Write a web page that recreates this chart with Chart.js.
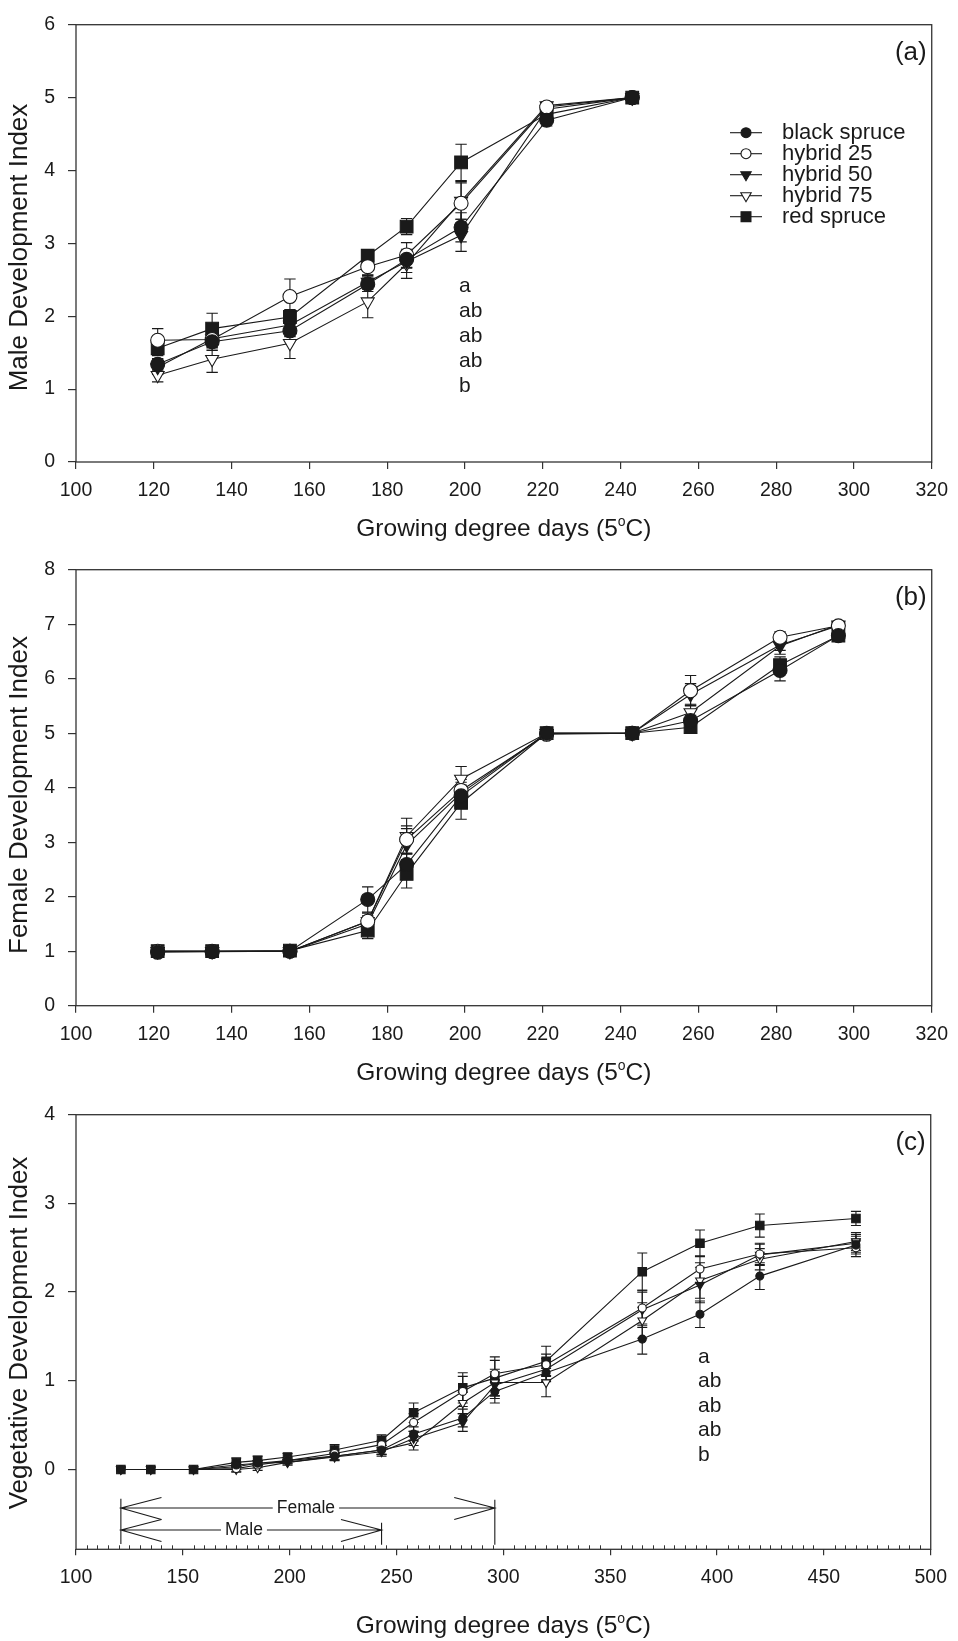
<!DOCTYPE html>
<html>
<head>
<meta charset="utf-8">
<script src="https://cdn.jsdelivr.net/npm/chart.js@4.4.1/dist/chart.umd.min.js"></script>
<style>
  body { margin: 0; background: #fff; width: 958px; height: 1641px; position: relative; overflow: hidden; }
  .panel { position: absolute; left: 0; width: 958px; }
</style>
</head>
<body>
<div class="panel" style="top:0;height:545px"><canvas id="maleChart"></canvas></div>
<div class="panel" style="top:545px;height:545px"><canvas id="femaleChart"></canvas></div>
<div class="panel" style="top:1090px;height:551px"><canvas id="vegChart"></canvas></div>

<script>
const seriesNames = ['black spruce', 'hybrid 25', 'hybrid 50', 'hybrid 75', 'red spruce'];

// sampling dates, growing degree days (5oC)
const gddMale = [121, 135, 155, 175, 185, 199, 221, 243];
const gddFemale = [121, 135, 155, 175, 185, 199, 221, 243, 258, 281, 296];
const gddVeg = [121, 135, 155, 175, 185, 199, 221, 243, 258, 281, 296, 320, 365, 392, 420, 465];

// (a) male development index, means and standard errors
const maleBlack   = [1.34, 1.65, 1.80, 2.44, 2.78, 3.22, 4.69, 5.00];
const maleHyb25   = [1.67, 1.68, 2.27, 2.68, 2.84, 3.55, 4.87, 5.00];
const maleHyb50   = [1.30, 1.69, 1.88, 2.47, 2.75, 3.11, 4.84, 5.00];
const maleHyb75   = [1.19, 1.41, 1.63, 2.20, 2.72, 3.58, 4.89, 5.00];
const maleRed     = [1.56, 1.83, 1.99, 2.83, 3.23, 4.11, 4.77, 5.00];
const maleBlackSe = [0.08, 0.10, 0.08, 0.10, 0.12, 0.20, 0.08, 0.03];
const maleHyb25Se = [0.16, 0.15, 0.24, 0.12, 0.17, 0.30, 0.06, 0.03];
const maleHyb50Se = [0.10, 0.12, 0.10, 0.10, 0.15, 0.22, 0.08, 0.03];
const maleHyb75Se = [0.09, 0.18, 0.21, 0.22, 0.20, 0.25, 0.05, 0.03];
const maleRedSe   = [0.10, 0.21, 0.10, 0.07, 0.11, 0.25, 0.08, 0.03];

// (b) female development index
const femBlack   = [0.98, 0.99, 1.00, 1.95, 2.59, 3.85, 5.00, 5.00, 5.23, 6.15, 6.79];
const femHyb25   = [1.00, 1.00, 1.00, 1.55, 3.05, 3.95, 4.98, 5.00, 5.78, 6.76, 6.97];
const femHyb50   = [1.00, 1.00, 1.00, 1.50, 2.95, 3.90, 5.00, 5.00, 5.71, 6.62, 6.97];
const femHyb75   = [1.00, 1.00, 1.00, 1.55, 3.11, 4.16, 5.00, 5.00, 5.38, 6.60, 6.99];
const femRed     = [1.00, 1.00, 1.01, 1.38, 2.42, 3.72, 5.00, 5.00, 5.11, 6.25, 6.79];
const femBlackSe = [0.03, 0.03, 0.03, 0.23, 0.20, 0.20, 0.03, 0.03, 0.10, 0.19, 0.05];
const femHyb25Se = [0.03, 0.03, 0.03, 0.15, 0.25, 0.20, 0.03, 0.03, 0.28, 0.10, 0.05];
const femHyb50Se = [0.03, 0.03, 0.03, 0.15, 0.30, 0.20, 0.03, 0.03, 0.20, 0.10, 0.05];
const femHyb75Se = [0.03, 0.03, 0.03, 0.15, 0.33, 0.23, 0.03, 0.03, 0.15, 0.15, 0.05];
const femRedSe   = [0.03, 0.03, 0.03, 0.15, 0.26, 0.30, 0.03, 0.03, 0.10, 0.15, 0.05];

// (c) vegetative development index
const vegBlack   = [0, 0, 0, 0.05, 0.07, 0.10, 0.15, 0.22, 0.40, 0.58, 0.88, 1.09, 1.47, 1.75, 2.18, 2.53];
const vegHyb25   = [0, 0, 0, 0.01, 0.05, 0.10, 0.18, 0.28, 0.53, 0.88, 1.08, 1.18, 1.82, 2.26, 2.43, 2.50];
const vegHyb50   = [0, 0, 0, 0.03, 0.07, 0.08, 0.14, 0.20, 0.35, 0.53, 0.95, 1.13, 1.80, 2.08, 2.42, 2.55];
const vegHyb75   = [0, 0, 0, 0.00, 0.02, 0.08, 0.15, 0.22, 0.30, 0.75, 0.98, 0.98, 1.68, 2.13, 2.37, 2.57];
const vegRed     = [0, 0, 0, 0.08, 0.10, 0.14, 0.22, 0.33, 0.64, 0.92, 1.03, 1.22, 2.23, 2.55, 2.75, 2.83];
const vegBlackSe = [0, 0, 0, 0.03, 0.03, 0.03, 0.04, 0.05, 0.08, 0.10, 0.13, 0.10, 0.17, 0.15, 0.15, 0.10];
const vegHyb25Se = [0, 0, 0, 0.03, 0.03, 0.03, 0.04, 0.05, 0.10, 0.17, 0.19, 0.12, 0.20, 0.15, 0.12, 0.10];
const vegHyb50Se = [0, 0, 0, 0.03, 0.03, 0.03, 0.04, 0.05, 0.08, 0.10, 0.15, 0.12, 0.20, 0.20, 0.12, 0.10];
const vegHyb75Se = [0, 0, 0, 0.03, 0.03, 0.03, 0.04, 0.05, 0.08, 0.12, 0.15, 0.16, 0.20, 0.20, 0.12, 0.10];
const vegRedSe   = [0, 0, 0, 0.05, 0.05, 0.04, 0.06, 0.06, 0.11, 0.17, 0.20, 0.17, 0.21, 0.15, 0.13, 0.08];

// axis ticks
const ticksGdd20 = [100, 120, 140, 160, 180, 200, 220, 240, 260, 280, 300, 320];
const ticksGdd50 = [100, 150, 200, 250, 300, 350, 400, 450, 500];
const ticksMale = [0, 1, 2, 3, 4, 5, 6];
const ticksFemale = [0, 1, 2, 3, 4, 5, 6, 7, 8];
const ticksVeg = [0, 1, 2, 3, 4];

// mean separation letters and reproductive bud periods
const groupLetters = ['a', 'ab', 'ab', 'ab', 'b'];
const maleSpan = [121, 243];
const femaleSpan = [121, 296];

const ink = '#1a1a1a';
const axisInk = '#333';
const fontFamily = '"Liberation Sans", Arial, Helvetica, sans-serif';

const markerStyles = [
  { style: 'circle', fill: ink, rotation: 0 },
  { style: 'circle', fill: '#fff', rotation: 0 },
  { style: 'triangle', fill: ink, rotation: 180 },
  { style: 'triangle', fill: '#fff', rotation: 180 },
  { style: 'rect', fill: ink, rotation: 0 }
];

function drawGddTitle(ctx, cx, baseline, size) {
  const head = 'Growing degree days (5', tail = 'C)';
  const main = size + 'px ' + fontFamily;
  const sup = Math.round(size * 0.58) + 'px ' + fontFamily;
  ctx.font = main;
  const w1 = ctx.measureText(head).width, w3 = ctx.measureText(tail).width;
  ctx.font = sup;
  const w2 = ctx.measureText('o').width;
  let x = cx - (w1 + w2 + w3) / 2;
  ctx.textAlign = 'left';
  ctx.textBaseline = 'alphabetic';
  ctx.font = main; ctx.fillText(head, x, baseline); x += w1;
  ctx.font = sup; ctx.fillText('o', x, baseline - size * 0.41); x += w2;
  ctx.font = main; ctx.fillText(tail, x, baseline);
}

const errorBars = {
  id: 'errorBars',
  beforeDatasetsDraw(chart, args, opts) {
    const { ctx } = chart;
    const yScale = chart.scales.y;
    ctx.save();
    ctx.strokeStyle = ink;
    ctx.lineWidth = 1.1;
    chart.data.datasets.forEach((ds, i) => {
      const meta = chart.getDatasetMeta(i);
      meta.data.forEach((pt, j) => {
        const e = ds.errors[j];
        if (!e) return;
        const v = ds.data[j].y;
        const top = yScale.getPixelForValue(v + e);
        const bot = yScale.getPixelForValue(v - e);
        ctx.beginPath();
        ctx.moveTo(pt.x, top); ctx.lineTo(pt.x, bot);
        ctx.moveTo(pt.x - opts.cap, top); ctx.lineTo(pt.x + opts.cap, top);
        ctx.moveTo(pt.x - opts.cap, bot); ctx.lineTo(pt.x + opts.cap, bot);
        ctx.stroke();
      });
    });
    ctx.restore();
  }
};

function panelDecor(p) {
  return {
    id: 'panelDecor',
    beforeDatasetsDraw(chart) {
      const { ctx, chartArea: a } = chart;
      ctx.save();
      ctx.strokeStyle = axisInk;
      ctx.lineWidth = 1.3;
      ctx.strokeRect(a.left, a.top, a.right - a.left, a.bottom - a.top);
      if (p.minorStep) {
        const xs = chart.scales.x;
        ctx.lineWidth = 1;
        ctx.beginPath();
        for (let v = xs.min + p.minorStep; v < xs.max; v += p.minorStep) {
          if (p.xTicks.includes(v)) continue;
          const px = Math.round(xs.getPixelForValue(v)) + 0.5;
          ctx.moveTo(px, a.bottom); ctx.lineTo(px, a.bottom - 4);
        }
        ctx.stroke();
      }
      ctx.restore();
    },
    afterDraw(chart) {
      const { ctx, chartArea: a } = chart;
      const xs = chart.scales.x, ys = chart.scales.y;
      ctx.save();
      ctx.fillStyle = ink;

      // axis titles
      drawGddTitle(ctx, (a.left + a.right) / 2, p.xTitleBaseline, 24.5);
      ctx.save();
      ctx.translate(20, p.yTitleY);
      ctx.rotate(-Math.PI / 2);
      ctx.textAlign = 'center';
      ctx.textBaseline = 'middle';
      ctx.font = '26px ' + fontFamily;
      ctx.fillText(p.yTitle, 0, 0);
      ctx.restore();

      // panel tag
      ctx.textAlign = 'right';
      ctx.textBaseline = 'middle';
      ctx.font = '26px ' + fontFamily;
      ctx.fillText(p.tag, a.right - 5, a.top + 28);

      // letters beside the separated date
      if (p.letters) {
        ctx.textAlign = 'left';
        ctx.font = '21px ' + fontFamily;
        const lx = xs.getPixelForValue(p.letters.at) - 2;
        const ly = ys.getPixelForValue(p.letters.y);
        groupLetters.forEach((t, i) => ctx.fillText(t, lx, ly + i * p.letters.step));
      }

      // legend
      if (p.legend) {
        chart.data.datasets.forEach((ds, i) => {
          const ry = p.legend.y + i * 21;
          ctx.strokeStyle = ink;
          ctx.lineWidth = 1.1;
          ctx.beginPath();
          ctx.moveTo(p.legend.x, ry); ctx.lineTo(p.legend.x + 32, ry);
          ctx.stroke();
          ctx.fillStyle = markerStyles[i].fill;
          Chart.helpers.drawPoint(ctx, {
            pointStyle: markerStyles[i].style,
            rotation: markerStyles[i].rotation,
            radius: [5, 5, 6, 6, 7][i],
            borderWidth: 1.1
          }, p.legend.x + 16, ry);
          ctx.fillStyle = ink;
          ctx.textAlign = 'left';
          ctx.textBaseline = 'middle';
          ctx.font = '22px ' + fontFamily;
          ctx.fillText(ds.label, p.legend.x + 52, ry);
        });
      }

      // bud periods under the vegetative curves
      if (p.spans) {
        ctx.strokeStyle = ink;
        ctx.lineWidth = 1.1;
        ctx.font = '17.5px ' + fontFamily;
        ctx.textAlign = 'center';
        ctx.textBaseline = 'middle';
        const X = v => xs.getPixelForValue(v), Y = v => ys.getPixelForValue(v);
        const bar = (x, y0, y1) => {
          ctx.beginPath(); ctx.moveTo(X(x), Y(y0)); ctx.lineTo(X(x), Y(y1)); ctx.stroke();
        };
        const span = (range, y, label, labelX) => {
          const [x0, x1] = range;
          const half = ctx.measureText(label).width / 2 + 4;
          ctx.beginPath();
          ctx.moveTo(X(x0), Y(y)); ctx.lineTo(X(labelX) - half, Y(y));
          ctx.moveTo(X(labelX) + half, Y(y)); ctx.lineTo(X(x1), Y(y));
          // open arrowheads at both ends
          ctx.moveTo(X(x0 + 19), Y(y + 0.12)); ctx.lineTo(X(x0), Y(y)); ctx.lineTo(X(x0 + 19), Y(y - 0.13));
          ctx.moveTo(X(x1 - 19), Y(y + 0.12)); ctx.lineTo(X(x1), Y(y)); ctx.lineTo(X(x1 - 19), Y(y - 0.13));
          ctx.stroke();
          ctx.fillText(label, X(labelX), Y(y));
        };
        bar(femaleSpan[0], -0.33, -0.84);
        bar(femaleSpan[1], -0.34, -0.85);
        bar(maleSpan[1], -0.60, -0.85);
        span(femaleSpan, -0.435, 'Female', 207.6);
        span(maleSpan, -0.683, 'Male', 178.6);
      }
      ctx.restore();
    }
  };
}

function buildPanel(p) {
  const datasets = p.series.map((vals, i) => ({
    label: seriesNames[i],
    data: p.x.map((gdd, j) => ({ x: gdd, y: vals[j] })),
    errors: p.errors[i],
    showLine: true,
    borderColor: ink,
    borderWidth: 1.1,
    pointStyle: markerStyles[i].style,
    pointRotation: markerStyles[i].rotation,
    pointRadius: p.radii[i],
    pointHoverRadius: p.radii[i],
    pointBackgroundColor: markerStyles[i].fill,
    pointBorderColor: ink,
    pointBorderWidth: 1.1
  }));

  new Chart(document.getElementById(p.id), {
    type: 'scatter',
    data: { datasets },
    plugins: [errorBars, panelDecor(p)],
    options: {
      responsive: true,
      maintainAspectRatio: false,
      animation: false,
      devicePixelRatio: 1,
      events: [],
      layout: { padding: { top: p.padTop, right: 20, left: 0, bottom: 0 } },
      plugins: {
        legend: { display: false },
        tooltip: { enabled: false },
        errorBars: { cap: p.cap }
      },
      scales: {
        x: {
          type: 'linear',
          min: p.xTicks[0],
          max: p.xTicks[p.xTicks.length - 1],
          afterBuildTicks: s => { s.ticks = p.xTicks.map(v => ({ value: v })); },
          afterFit: s => { s.height = p.xAxisHeight; },
          ticks: {
            autoSkip: false, maxRotation: 0, padding: p.xTickPad, color: ink,
            font: { family: fontFamily, size: 19.5 },
            callback: v => String(v)
          },
          grid: { drawOnChartArea: false, tickLength: p.xTickLen, color: axisInk, lineWidth: 1.2 },
          border: { display: false }
        },
        y: {
          type: 'linear',
          min: p.yMin,
          max: p.yTicks[p.yTicks.length - 1],
          afterBuildTicks: s => { s.ticks = p.yTicks.map(v => ({ value: v })); },
          afterFit: s => { s.width = 76; },
          ticks: {
            padding: 13, color: ink,
            font: { family: fontFamily, size: 19.5 },
            callback: v => String(v)
          },
          grid: { drawOnChartArea: false, tickLength: 8, color: axisInk, lineWidth: 1.2 },
          border: { display: false }
        }
      }
    }
  });
}

buildPanel({
  id: 'maleChart', tag: '(a)', yTitle: 'Male Development Index',
  x: gddMale,
  series: [maleBlack, maleHyb25, maleHyb50, maleHyb75, maleRed],
  errors: [maleBlackSe, maleHyb25Se, maleHyb50Se, maleHyb75Se, maleRedSe],
  xTicks: ticksGdd20, yTicks: ticksMale, yMin: 0,
  radii: [7, 7, 7.5, 7.5, 9], cap: 5.7,
  padTop: 14, xAxisHeight: 83, xTickLen: 7, xTickPad: 10,
  xTitleBaseline: 536.3, yTitleY: 247.5,
  letters: { at: 199, y: 2.41, step: 25 },
  legend: { x: 730, y: 132.7 }
});

buildPanel({
  id: 'femaleChart', tag: '(b)', yTitle: 'Female Development Index',
  x: gddFemale,
  series: [femBlack, femHyb25, femHyb50, femHyb75, femRed],
  errors: [femBlackSe, femHyb25Se, femHyb50Se, femHyb75Se, femRedSe],
  xTicks: ticksGdd20, yTicks: ticksFemale, yMin: 0,
  radii: [7, 7, 7.5, 7.5, 9], cap: 5.7,
  padTop: 13.3, xAxisHeight: 84.3, xTickLen: 7, xTickPad: 10,
  xTitleBaseline: 535, yTitleY: 250
});

buildPanel({
  id: 'vegChart', tag: '(c)', yTitle: 'Vegetative Development Index',
  x: gddVeg,
  series: [vegBlack, vegHyb25, vegHyb50, vegHyb75, vegRed],
  errors: [vegBlackSe, vegHyb25Se, vegHyb50Se, vegHyb75Se, vegRedSe],
  xTicks: ticksGdd50, yTicks: ticksVeg, yMin: -0.9,
  radii: [4, 4, 5, 5, 6], cap: 5,
  padTop: 11.7, xAxisHeight: 91.7, xTickLen: 6, xTickPad: 11,
  xTitleBaseline: 542.7, yTitleY: 243,
  minorStep: 5,
  letters: { at: 392, y: 1.27, step: 24.6 },
  spans: true
});
</script>
</body>
</html>
